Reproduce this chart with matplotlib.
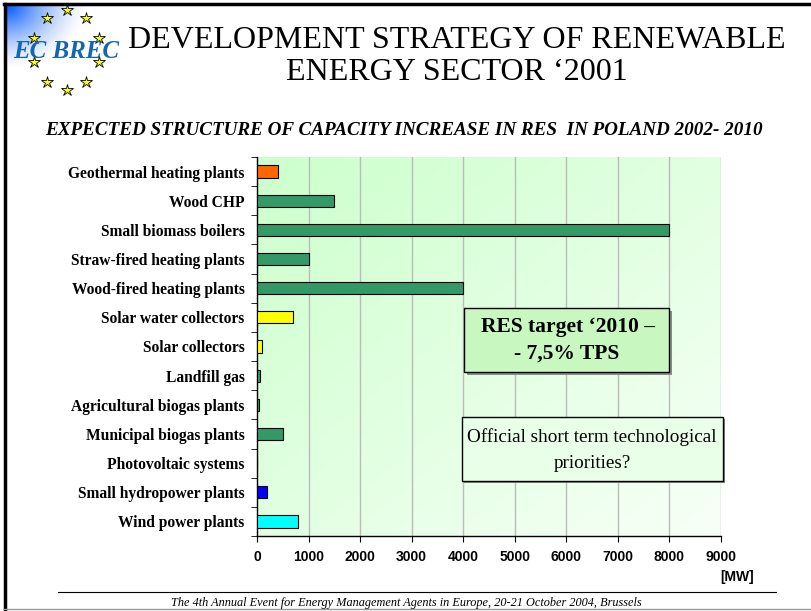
import numpy as np
import matplotlib
matplotlib.use('Agg')
import matplotlib.pyplot as plt
from matplotlib.patches import Rectangle
from matplotlib.lines import Line2D

# data (MW), top to bottom as on the slide
categories = ['Geothermal heating plants', 'Wood CHP', 'Small biomass boilers',
              'Straw-fired heating plants', 'Wood-fired heating plants',
              'Solar water collectors', 'Solar collectors', 'Landfill gas',
              'Agricultural biogas plants', 'Municipal biogas plants',
              'Photovoltaic systems', 'Small hydropower plants', 'Wind power plants']
capacity = [400, 1500, 8000, 1000, 4000, 700, 100, 50, 30, 500, 0, 200, 800]
bar_colors = ['#FF6600', '#339966', '#339966', '#339966', '#339966',
              '#FFFF00', '#FFFF00', '#339966', '#339966', '#339966',
              '#339966', '#0000FF', '#00FFFF']
x_ticks = [0, 1000, 2000, 3000, 4000, 5000, 6000, 7000, 8000, 9000]

W, H = 811, 611
serif = 'Liberation Serif'
sans = 'Liberation Sans'


def fx(x):
    return x / W


def fy(y):
    return 1 - y / H


fig = plt.figure(figsize=(W / 100, H / 100), dpi=100)
fig.patch.set_facecolor('white')

# slide frame
fig.add_artist(Line2D([fx(5), fx(5)], [fy(4), fy(611)], color='black', lw=2.5))
fig.add_artist(Line2D([fx(4), fx(811)], [fy(4), fy(4)], color='black', lw=2.5))
fig.add_artist(Line2D([fx(4), fx(811)], [fy(609), fy(609)], color='#999999', lw=1))

# logo: blue corner glow
lax = fig.add_axes([fx(6), fy(70), fx(90), 64 / H])
gx, gy = np.meshgrid(np.linspace(0, 1, 120), np.linspace(0, 1, 90))
dist = np.sqrt(gx ** 2 + (gy * 0.9) ** 2)
alpha = np.clip(1 - dist / 0.9, 0, 1) ** 1.4
img = np.zeros((90, 120, 4))
img[..., 1] = 0.35
img[..., 2] = 1.0
img[..., 3] = alpha
lax.imshow(img, extent=[0, 1, 0, 1], origin='upper', aspect='auto')
lax.axis('off')

ang = np.deg2rad(np.arange(90, 450, 36))
sx = 66.5 + 34 * np.cos(ang)
sy = 50 - 40 * np.sin(ang)
fig.add_artist(Line2D(fx(sx), fy(sy), ls='none', marker='*', markersize=9,
                      markerfacecolor='#FFFF00', markeredgecolor='black',
                      markeredgewidth=0.6))
fig.text(fx(66), fy(51), 'EC BREC', ha='center', va='center', fontsize=18,
         fontweight='bold', fontstyle='italic', family=serif, color='#1565B0')

# titles
fig.text(fx(457), fy(40), 'DEVELOPMENT STRATEGY OF RENEWABLE', ha='center',
         va='center', fontsize=23, family=serif)
fig.text(fx(457), fy(73), 'ENERGY SECTOR \u20182001', ha='center',
         va='center', fontsize=23, family=serif)
fig.text(fx(404), fy(131), 'EXPECTED STRUCTURE OF CAPACITY INCREASE IN RES  IN POLAND 2002- 2010',
         ha='center', va='center', fontsize=13.8, fontweight='bold',
         fontstyle='italic', family=serif)

# chart
ax = fig.add_axes([fx(257), fy(536), fx(721) - fx(257), (536 - 157) / H])
n = len(categories)
ypos = np.arange(n)

grad = np.zeros((100, 100, 3))
u, v = np.meshgrid(np.linspace(0, 1, 100), np.linspace(0, 1, 100))
t = np.clip((u + v) / 2, 0, 1)
c0 = np.array([0.80, 1.0, 0.80])
c1 = np.array([0.97, 1.0, 0.97])
for k in range(3):
    grad[..., k] = c0[k] + (c1[k] - c0[k]) * t
ax.imshow(grad, extent=[0, 1, 0, 1], transform=ax.transAxes, aspect='auto',
          zorder=0)

for xv in x_ticks[1:]:
    ax.axvline(xv, color='#BBBBBB', lw=1, zorder=1)

ax.barh(ypos, capacity, height=0.42, color=bar_colors, edgecolor='black',
        linewidth=0.8, zorder=3)

ax.set_xlim(0, 9000)
ax.set_ylim(n - 0.5, -0.5)
ax.set_yticks(ypos)
ax.set_yticklabels(categories, fontsize=11.2, fontweight='bold', family=serif)
ax.set_yticks(np.arange(-0.5, n, 1), minor=True)
ax.tick_params(axis='y', which='major', length=0, pad=9)
ax.tick_params(axis='y', which='minor', length=4, direction='out')
ax.set_xticks(x_ticks)
ax.set_xticklabels([str(v) for v in x_ticks], fontsize=10, fontweight='bold',
                   family=sans)
ax.tick_params(axis='x', length=4, direction='out', pad=6)
for s in ['top', 'right']:
    ax.spines[s].set_visible(False)
ax.spines['left'].set_linewidth(1)
ax.spines['bottom'].set_linewidth(1)

fig.text(fx(737), fy(577), '[MW]', ha='center', va='center', fontsize=10,
         fontweight='bold', family=sans)


def box(x0, y0, x1, y1, face, shadow=3):
    fig.add_artist(Rectangle((fx(x0 + shadow), fy(y1 + shadow)),
                             (x1 - x0) / W, (y1 - y0) / H,
                             facecolor='#8C8C8C', edgecolor='none', zorder=5))
    fig.add_artist(Rectangle((fx(x0), fy(y1)), (x1 - x0) / W, (y1 - y0) / H,
                             facecolor=face, edgecolor='black', lw=1, zorder=6))


box(464, 308, 669, 372, '#C8F8C0')
fig.text(fx(568), fy(327), 'RES target \u20182010 \u2013', ha='center', va='center',
         fontsize=15.5, fontweight='bold', family=serif, zorder=7)
fig.text(fx(567), fy(354), '- 7,5% TPS', ha='center', va='center',
         fontsize=15.5, fontweight='bold', family=serif, zorder=7)

box(462, 417, 723, 481, '#EAFFE8', shadow=2)
fig.text(fx(592), fy(437), 'Official short term technological', ha='center',
         va='center', fontsize=13.8, family=serif, zorder=7)
fig.text(fx(592), fy(464), 'priorities?', ha='center', va='center',
         fontsize=13.8, family=serif, zorder=7)

# footer
fig.add_artist(Line2D([fx(58), fx(776)], [fy(592), fy(592)], color='black', lw=0.8))
fig.text(fx(406), fy(603), 'The 4th Annual Event for Energy Management Agents in Europe, 20-21 October 2004, Brussels',
         ha='center', va='center', fontsize=8.8, fontstyle='italic', family=serif)

fig.savefig('out.png', dpi=100)
